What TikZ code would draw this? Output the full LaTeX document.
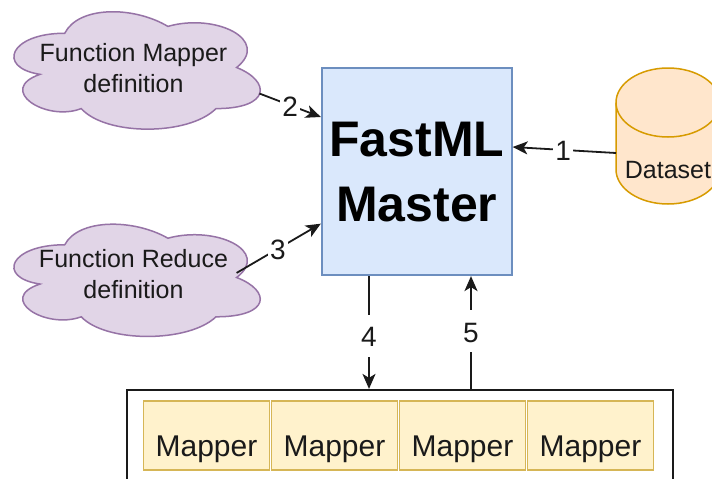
\documentclass[tikz,border=0pt]{standalone}
\usepackage{fontspec}
\setmainfont{Liberation Sans}
\usetikzlibrary{arrows.meta,calc}

\definecolor{masterfill}{HTML}{DAE8FC}
\definecolor{masterline}{HTML}{6C8EBF}
\definecolor{cloudfill}{HTML}{E1D5E7}
\definecolor{cloudline}{HTML}{9673A6}
\definecolor{dbfill}{HTML}{FFE6CC}
\definecolor{dbline}{HTML}{D79B00}
\definecolor{mapfill}{HTML}{FFF2CC}
\definecolor{mapline}{HTML}{D6B656}
\definecolor{ink}{HTML}{1A1A1A}

% cloud outline in unit coordinates (scaled by the enclosing scope)
\newcommand\cloudoutline{%
  (0.25,0.25) .. controls (0.05,0.25) and (0,0.5) .. (0.16,0.55)
  .. controls (0,0.66) and (0.18,0.9) .. (0.31,0.8)
  .. controls (0.4,1) and (0.7,1) .. (0.8,0.8)
  .. controls (1,0.8) and (1,0.6) .. (0.875,0.5)
  .. controls (1,0.3) and (0.8,0.1) .. (0.625,0.2)
  .. controls (0.5,0.05) and (0.3,0.05) .. (0.25,0.25) -- cycle}

\begin{document}
\begin{tikzpicture}[x=1pt,y=-1pt,
  cloudshape/.style={fill=cloudfill,draw=cloudline,line width=1.5pt},
  cloudtext/.style={align=center,text=ink,inner sep=0pt,
    font=\fontsize{25}{31}\selectfont},
  masterbox/.style={draw=masterline,fill=masterfill,line width=1.8pt,
    minimum width=190pt,minimum height=207pt,inner sep=0pt,align=center,
    text=black,font=\bfseries\fontsize{50}{65}\selectfont},
  mapperbox/.style={draw=mapline,fill=mapfill,line width=1.8pt,
    minimum width=126pt,minimum height=69pt,inner sep=0pt,
    text height=47pt,text depth=6pt,text=ink,
    font=\fontsize{30}{36}\selectfont},
  poolbox/.style={draw=ink,line width=2.2pt,minimum width=545.7pt,
    minimum height=110pt,inner sep=0pt},
  conn/.style={draw=ink,line width=1.8pt,
    -{Stealth[length=15pt,width=13pt,inset=4pt]}},
  num/.style={fill=white,text=ink,inner xsep=2pt,inner ysep=3pt,
    text height=29pt,text depth=7pt,font=\fontsize{28}{32}\selectfont},
]
\useasboundingbox (0,0) rectangle (712,479);
\fill[white] (0,0) rectangle (712,479);
\clip (0,0) rectangle (712,479);

% input clouds
\begin{scope}[shift={(-4,-1)},xscale=275,yscale=137]
  \path[cloudshape] \cloudoutline;
  \coordinate (mapout) at (0.958,0.69);
\end{scope}
\node[cloudtext] (mapdef) at (133.5,68.5) {Function Mapper\\definition};

\begin{scope}[shift={(-4,212)},xscale=275,yscale=131]
  \path[cloudshape] \cloudoutline;
  \coordinate (redout) at (0.875,0.465);
\end{scope}
\node[cloudtext] (reddef) at (133.5,274.5) {Function Reduce\\definition};

% dataset cylinder
\path[fill=dbfill] (616,102.5) rectangle (720,169.5);
\path[fill=dbfill] (668,169.5) ellipse [x radius=52, y radius=34.5];
\draw[draw=dbline,line width=1.5pt,fill=dbfill]
  (668,102.5) ellipse [x radius=52, y radius=34.5];
\draw[draw=dbline,line width=1.5pt]
  (616,102.5) -- (616,169.5)
  .. controls (616,188.55) and (639.28,204) .. (668,204)
  .. controls (696.72,204) and (720,188.55) .. (720,169.5) -- (720,102.5);
\node[text=ink,inner sep=0pt,font=\fontsize{25}{30}\selectfont]
  (data) at (668,170.5) {Dataset};
\coordinate (dataout) at (616,153);

% master
\node[masterbox] (m) at (416.7,171.7) {FastML\\Master};

% mapper pool
\node[poolbox] (pool) at (400.15,445) {};
\foreach \i/\xc in {1/206.5,2/334.5,3/462.5,4/590.5}
  \node[mapperbox] (map\i) at (\xc,435.5) {Mapper};

% connectors
\draw[conn] (dataout) -- node[num,pos=0.51] {1} ([yshift=24.7pt]m.east);
\draw[conn] (mapout) -- node[num,pos=0.5] {2} ([yshift=54.7pt]m.west);
\draw[conn] (redout) -- node[num,pos=0.49] {3} ([yshift=-52pt]m.west);
\coordinate (down) at ([xshift=-47.7pt]m.south);
\coordinate (up) at ([xshift=54.3pt]m.south);
\draw[conn] (down) -- node[num,pos=0.53] {4} (down |- pool.north);
\draw[conn] (up |- pool.north) -- node[num,pos=0.51] {5} (up);
\end{tikzpicture}
\end{document}
